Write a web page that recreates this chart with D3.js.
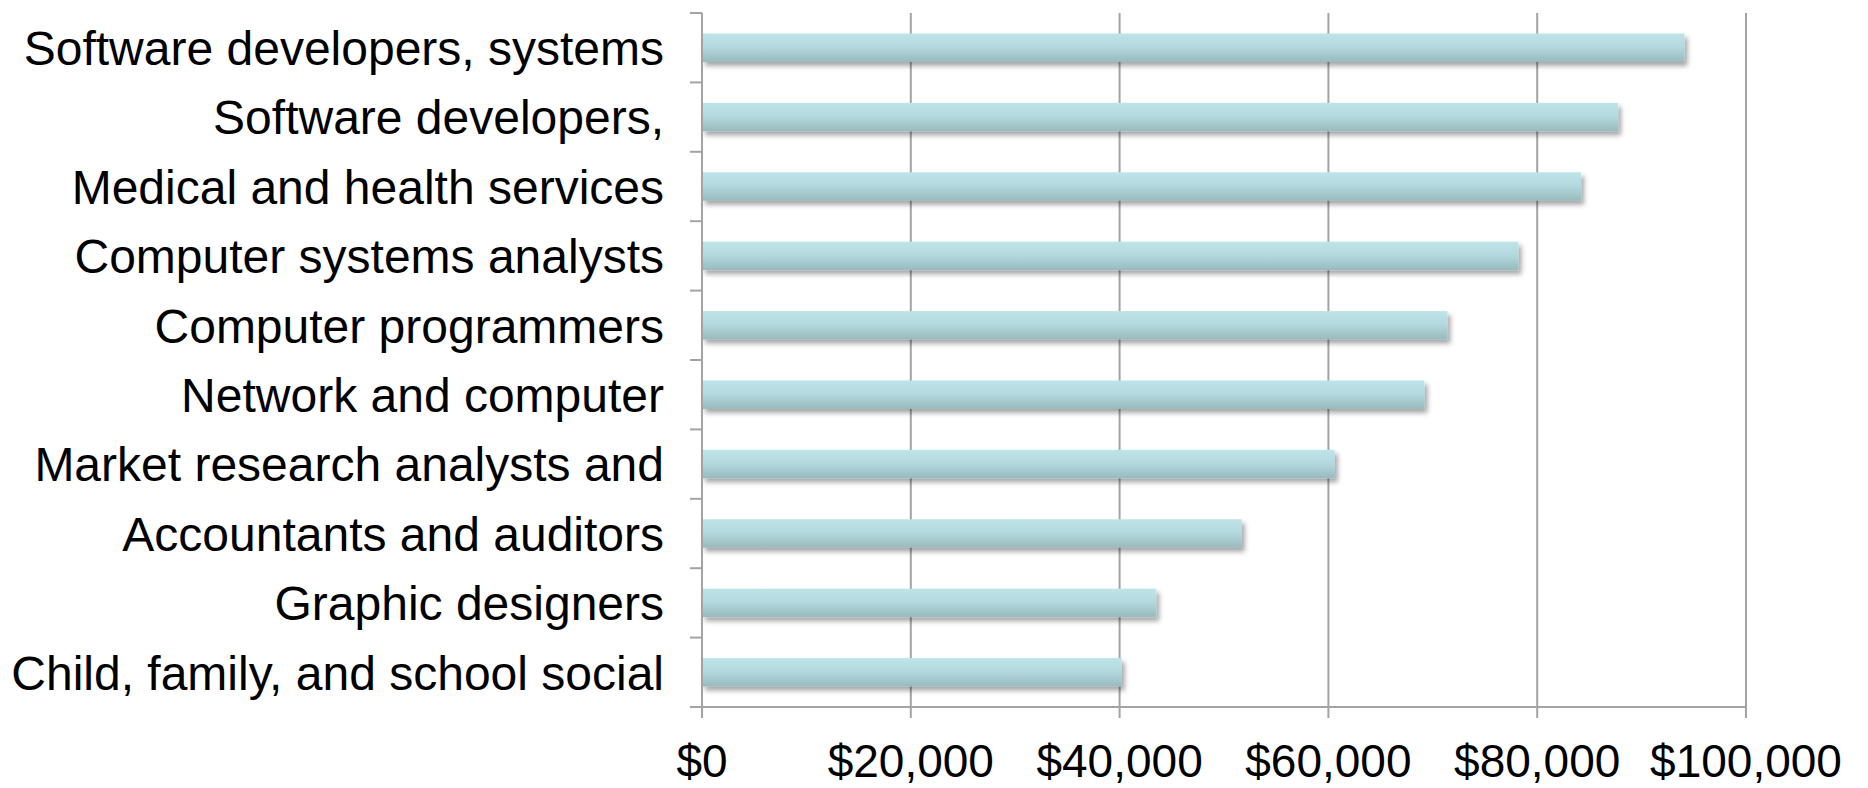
<!DOCTYPE html>
<html>
<head>
<meta charset="utf-8">
<script src="https://cdn.jsdelivr.net/npm/d3@7"></script>
<style>
  html, body { margin: 0; padding: 0; background: #fff; }
  svg { display: block; }
  text { font-family: "Liberation Sans", Arial, Helvetica, sans-serif; fill: #000; }
</style>
</head>
<body>
<svg id="chart" width="1868" height="788"></svg>
<script>
// Occupations, top to bottom
const categories = [
  "Software developers, systems",
  "Software developers,",
  "Medical and health services",
  "Computer systems analysts",
  "Computer programmers",
  "Network and computer",
  "Market research analysts and",
  "Accountants and auditors",
  "Graphic designers",
  "Child, family, and school social"
];

// Median annual wage (USD)
const wages = [94100, 87750, 84200, 78200, 71400, 69200, 60600, 51700, 43500, 40200];

// Axis ticks
const xTicks = [0, 20000, 40000, 60000, 80000, 100000];

const svg = d3.select("#chart");
const plotLeft = 702, plotRight = 1746, plotTop = 13, plotBottom = 707;
const gridColor = "#a3a3a3";

const x = d3.scaleLinear().domain([0, 100000]).range([plotLeft, plotRight]);
const rows = d3.scaleBand().domain(categories).range([plotTop, plotBottom]).padding(0);
const y = d3.scaleBand().domain(categories).range([plotTop, plotBottom])
  .paddingInner(0.59).paddingOuter(0.295);

// Bar fill gradient and soft drop shadow
const defs = svg.append("defs");
const grad = defs.append("linearGradient")
  .attr("id", "barFill").attr("x1", 0).attr("y1", 0).attr("x2", 0).attr("y2", 1);
grad.append("stop").attr("offset", "0%").attr("stop-color", "#bde4e8");
grad.append("stop").attr("offset", "45%").attr("stop-color", "#b4dadf");
grad.append("stop").attr("offset", "100%").attr("stop-color", "#98babe");

const shadow = defs.append("filter").attr("id", "barShadow")
  .attr("x", "-5%").attr("y", "-30%").attr("width", "115%").attr("height", "180%");
shadow.append("feDropShadow")
  .attr("dx", 3).attr("dy", 4).attr("stdDeviation", 2.5)
  .attr("flood-color", "#000").attr("flood-opacity", 0.35);

// Vertical gridlines (extend below the axis as ticks)
svg.append("g").selectAll("line")
  .data(xTicks.filter(d => d > 0))
  .join("line")
  .attr("x1", d => x(d)).attr("x2", d => x(d))
  .attr("y1", plotTop).attr("y2", plotBottom + 11)
  .attr("stroke", gridColor).attr("stroke-width", 2);

// Bars
svg.append("g").selectAll("rect")
  .data(categories)
  .join("rect")
  .attr("x", x(0))
  .attr("y", d => y(d))
  .attr("width", (d, i) => x(wages[i]) - x(0))
  .attr("height", y.bandwidth())
  .attr("fill", "url(#barFill)")
  .attr("filter", "url(#barShadow)");

// Category axis: line plus ticks at row boundaries
const yAxis = svg.append("g");
yAxis.append("line")
  .attr("x1", plotLeft).attr("x2", plotLeft).attr("y1", plotTop).attr("y2", plotBottom + 11)
  .attr("stroke", gridColor).attr("stroke-width", 2);
const bounds = categories.map(c => rows(c)).concat([plotBottom]);
yAxis.selectAll("line.tick")
  .data(bounds)
  .join("line")
  .attr("class", "tick")
  .attr("x1", plotLeft - 12).attr("x2", plotLeft)
  .attr("y1", d => d).attr("y2", d => d)
  .attr("stroke", gridColor).attr("stroke-width", 2);
yAxis.selectAll("text")
  .data(categories)
  .join("text")
  .attr("x", 664)
  .attr("y", d => rows(d) + rows.bandwidth() / 2)
  .attr("dy", "0.36em")
  .attr("text-anchor", "end")
  .style("font-size", "48px")
  .text(d => d);

// Value axis
const xAxis = svg.append("g");
xAxis.append("line")
  .attr("x1", plotLeft).attr("x2", plotRight).attr("y1", plotBottom).attr("y2", plotBottom)
  .attr("stroke", gridColor).attr("stroke-width", 2);
const fmt = d3.format("$,");
xAxis.selectAll("text")
  .data(xTicks)
  .join("text")
  .attr("x", d => x(d))
  .attr("y", 777)
  .attr("text-anchor", "middle")
  .style("font-size", "46px")
  .text(d => fmt(d));
</script>
</body>
</html>
